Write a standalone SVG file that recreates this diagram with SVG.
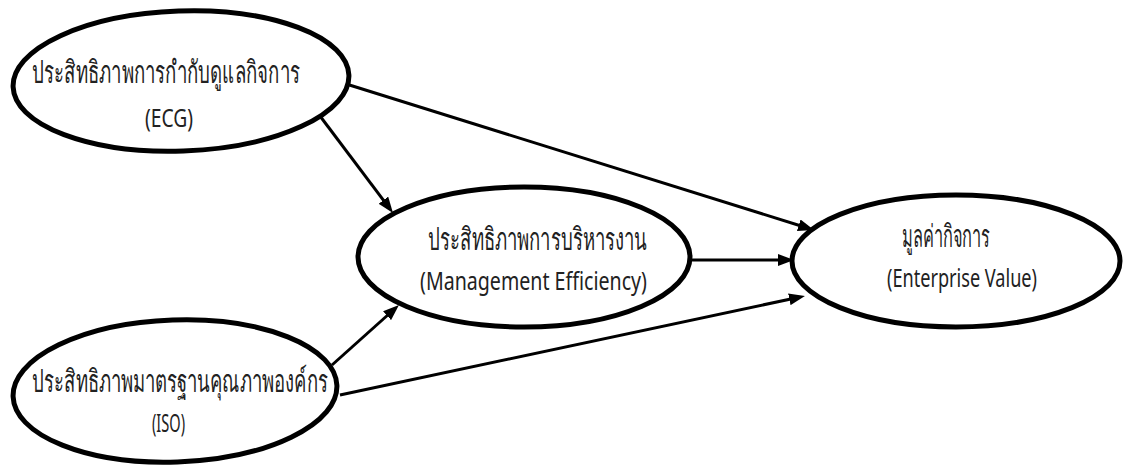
<svg xmlns="http://www.w3.org/2000/svg" width="1123" height="466" viewBox="0 0 1123 466">
<style>
.node{fill:#fff;stroke:#000;stroke-width:5}
.lbl{font-family:"Noto Sans","Open Sans","DejaVu Sans",sans-serif;font-size:25px;fill:#222}
.th{font-size:31px}
.edge{stroke:#000;stroke-width:3;fill:none;marker-end:url(#ah)}
</style>
<defs>
<marker id="ah" viewBox="0 0 16 12" refX="10" refY="6" markerWidth="16" markerHeight="12" markerUnits="userSpaceOnUse" orient="auto">
<path d="M0,0 L16,6 L0,12 z" fill="#000"/>
</marker>
</defs>
<rect width="1123" height="466" fill="#fff"/>
<g id="connectors">
<line class="edge" x1="320" y1="116" x2="389.4" y2="208.2"/>
<line class="edge" x1="343" y1="83" x2="808.3" y2="228.2"/>
<line class="edge" x1="689" y1="260" x2="788" y2="260"/>
<line class="edge" x1="332" y1="365" x2="394.5" y2="309"/>
<line class="edge" x1="340" y1="395" x2="799.1" y2="297.2"/>
</g>
<g id="ecg">
<ellipse class="node" cx="181" cy="81" rx="168" ry="70" transform="rotate(-2 181 81)"/>
<text class="lbl th" x="32" y="83" textLength="268" lengthAdjust="spacingAndGlyphs">ประสิทธิภาพการกำกับดูแลกิจการ</text>
<text class="lbl" x="145" y="127" textLength="48" lengthAdjust="spacingAndGlyphs">(ECG)</text>
</g>
<g id="iso">
<ellipse class="node" cx="175" cy="391" rx="162" ry="71" transform="rotate(-2 175 391)"/>
<text class="lbl th" x="32" y="392" textLength="296" lengthAdjust="spacingAndGlyphs">ประสิทธิภาพมาตรฐานคุณภาพองค์กร</text>
<text class="lbl" x="152" y="432" textLength="33" lengthAdjust="spacingAndGlyphs">(ISO)</text>
</g>
<g id="management">
<ellipse class="node" cx="524" cy="257" rx="166" ry="70"/>
<text class="lbl th" x="428" y="250" textLength="219" lengthAdjust="spacingAndGlyphs">ประสิทธิภาพการบริหารงาน</text>
<text class="lbl" x="420" y="290" textLength="227" lengthAdjust="spacingAndGlyphs">(Management Efficiency)</text>
</g>
<g id="enterprise">
<ellipse class="node" cx="956" cy="261" rx="164" ry="66"/>
<text class="lbl th" x="902" y="247" textLength="88" lengthAdjust="spacingAndGlyphs">มูลค่ากิจการ</text>
<text class="lbl" x="887" y="287" textLength="150" lengthAdjust="spacingAndGlyphs">(Enterprise Value)</text>
</g>
</svg>
